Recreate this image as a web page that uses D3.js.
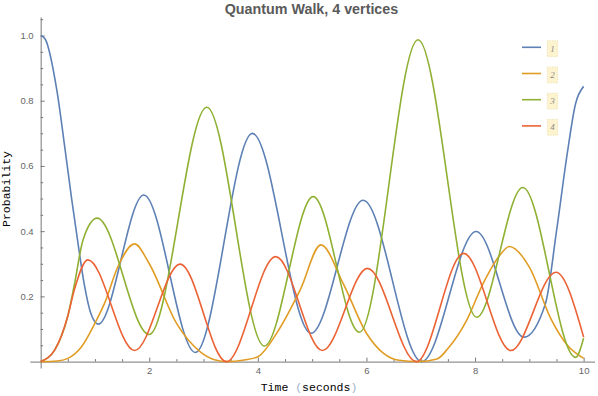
<!DOCTYPE html>
<html lang="en">
<head>
<meta charset="UTF-8">
<title>Quantum Walk, 4 vertices</title>
<script src="https://d3js.org/d3.v7.min.js"></script>
<style>
  body { margin: 0; background: #fff; }
  svg { display: block; }
  .axis path, .axis line { stroke: #777; }
  .axis text { font-family: 'Liberation Sans', Arial, sans-serif; font-size: 9.5px; fill: #666; }
  .title { font-family: 'Liberation Sans', Arial, sans-serif; font-size: 14.3px; font-weight: bold; fill: #5a5a5a; }
  .label { font-family: 'Liberation Mono', 'Courier New', monospace; font-size: 11.5px; fill: #000; }
  .legend text { font-family: 'Liberation Serif', serif; font-style: italic; font-size: 9px; fill: #8a8a8a; }
</style>
</head>
<body>
<svg width="598" height="396"></svg>
<script>
// values (time in seconds, probability)
const t1 = [0, 0.08, 0.3, 0.45, 0.57, 0.69, 0.8, 0.93, 1.06, 1.90, 2.85, 3.90, 4.98, 5.94, 7.02, 8.02, 8.90, 9.3, 9.5, 9.7, 9.85, 10];
const p1 = [1.0, 0.99, 0.83, 0.65, 0.5, 0.36, 0.24, 0.145, 0.115, 0.511, 0.028, 0.70, 0.087, 0.495, 0.0, 0.399, 0.075, 0.18, 0.40, 0.64, 0.79, 0.844];

const t2 = [0, 0.3, 0.5, 0.75, 1.0, 1.18, 1.42, 1.73, 2.0, 2.5, 2.94, 3.2, 3.45, 3.75, 4.0, 4.35, 4.78, 5.16, 5.57, 6.0, 6.31, 6.6, 6.95, 7.3, 7.5, 7.85, 8.15, 8.46, 8.63, 9.0, 9.4, 9.7, 10];
const p2 = [0, 0.002, 0.01, 0.045, 0.118, 0.18, 0.29, 0.361, 0.30, 0.118, 0.03, 0.006, 0, 0.005, 0.015, 0.088, 0.22, 0.358, 0.24, 0.087, 0.026, 0.004, 0, 0.008, 0.04, 0.128, 0.24, 0.327, 0.353, 0.29, 0.13, 0.05, 0.01];

const t3 = [0, 0.26, 0.5, 0.62, 0.78, 1.04, 2.0, 3.06, 4.12, 5.02, 5.87, 6.95, 8.03, 8.88, 9.85, 10];
const p3 = [0, 0.036, 0.14, 0.235, 0.373, 0.44, 0.083, 0.78, 0.048, 0.506, 0.09, 0.987, 0.136, 0.534, 0.013, 0.072];

const t4 = [0, 0.26, 0.5, 0.62, 0.87, 1.73, 2.57, 3.42, 4.33, 5.19, 6.02, 6.92, 7.79, 8.66, 9.49, 10];
const p4 = [0, 0.036, 0.14, 0.22, 0.312, 0.034, 0.299, 0, 0.322, 0.034, 0.286, 0, 0.332, 0.034, 0.274, 0.075];

const names = ["1", "2", "3", "4"];
const colors = ["#5E81B5", "#E19C24", "#8FB032", "#EB6235"];
const xMajor = [2, 4, 6, 8, 10];
const xMinor = [0.5, 1, 1.5, 2.5, 3, 3.5, 4.5, 5, 5.5, 6.5, 7, 7.5, 8.5, 9, 9.5];
const yMajor = [0.2, 0.4, 0.6, 0.8, 1.0];
const yMinor = [0.05, 0.1, 0.15, 0.25, 0.3, 0.35, 0.45, 0.5, 0.55, 0.65, 0.7, 0.75, 0.85, 0.9, 0.95, 1.05];

const series = [[t1, p1], [t2, p2], [t3, p3], [t4, p4]]
  .map(([t, p]) => t.map((d, i) => [d, p[i]]));

const svg = d3.select("svg");

const x = d3.scaleLinear().domain([-0.2, 10.2]).range([29.8, 594.5]);
const y = d3.scaleLinear().domain([-0.0196, 1.0567]).range([368, 17]);

// x axis (ticks point inward)
svg.append("g").attr("class", "axis")
  .attr("transform", `translate(0,${y(0)})`)
  .call(d3.axisBottom(x).tickValues(xMinor).tickSizeInner(-2.5).tickSizeOuter(0).tickFormat(""));
svg.append("g").attr("class", "axis")
  .attr("transform", `translate(0,${y(0)})`)
  .call(d3.axisBottom(x).tickValues(xMajor).tickSizeInner(-4).tickSizeOuter(0).tickPadding(6).tickFormat(d3.format("d")))
  .call(g => g.select(".domain").remove());

// y axis
svg.append("g").attr("class", "axis")
  .attr("transform", `translate(${x(0)},0)`)
  .call(d3.axisLeft(y).tickValues(yMinor).tickSizeInner(-2.5).tickSizeOuter(0).tickFormat(""));
svg.append("g").attr("class", "axis")
  .attr("transform", `translate(${x(0)},0)`)
  .call(d3.axisLeft(y).tickValues(yMajor).tickSizeInner(-4).tickSizeOuter(0).tickPadding(7).tickFormat(d3.format(".1f")))
  .call(g => g.select(".domain").remove());

const line = d3.line()
  .x(d => x(d[0]))
  .y(d => y(d[1]))
  .curve(d3.curveMonotoneX);

svg.append("g").selectAll("path")
  .data(series)
  .join("path")
  .attr("d", line)
  .attr("fill", "none")
  .attr("stroke", (d, i) => colors[i])
  .attr("stroke-width", 1.6);

// title and axis labels
svg.append("text").attr("class", "title")
  .attr("x", 311.5).attr("y", 14).attr("text-anchor", "middle")
  .text("Quantum Walk, 4 vertices");

const xl = svg.append("text").attr("class", "label")
  .attr("x", 309).attr("y", 391).attr("text-anchor", "middle");
xl.append("tspan").text("Time ");
xl.append("tspan").attr("fill", "#9fb3c8").text("(");
xl.append("tspan").text("seconds");
xl.append("tspan").attr("fill", "#9fb3c8").text(")");

svg.append("text").attr("class", "label")
  .attr("transform", "translate(10,189) rotate(-90)")
  .attr("text-anchor", "middle")
  .text("Probability");

// legend
const legend = svg.append("g").attr("class", "legend");
const item = legend.selectAll("g")
  .data(names)
  .join("g")
  .attr("transform", (d, i) => `translate(522,${47.3 + i * 26.2})`);
item.append("line")
  .attr("x1", 0).attr("x2", 19)
  .attr("stroke", (d, i) => colors[i])
  .attr("stroke-width", 1.6);
item.append("rect")
  .attr("x", 25.3).attr("y", -6.6)
  .attr("width", 10.4).attr("height", 16)
  .attr("fill", "#fdf3cf")
  .attr("stroke", "#e6d9a6")
  .attr("stroke-width", 0.8)
  .attr("stroke-dasharray", "1,1.5");
item.append("text")
  .attr("x", 30.5).attr("y", 4.5)
  .attr("text-anchor", "middle")
  .text(d => d);
</script>
</body>
</html>
